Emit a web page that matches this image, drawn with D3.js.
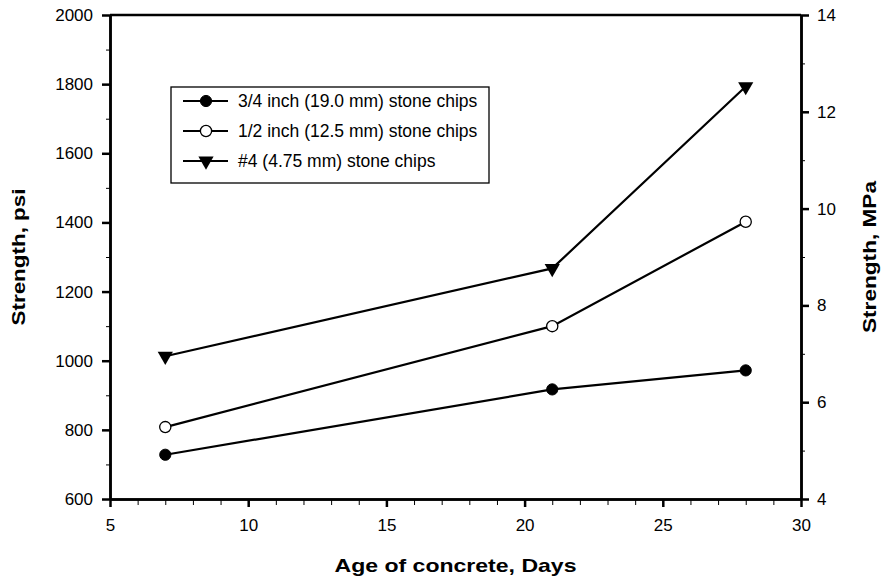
<!DOCTYPE html>
<html>
<head>
  <meta charset="utf-8">
  <script src="https://cdnjs.cloudflare.com/ajax/libs/d3/7.8.5/d3.min.js"></script>
  <title>Strength vs Age</title>
  <style>
    body { margin: 0; background: #fff; }
    text { font-family: Arial, "Liberation Sans", sans-serif; fill: #000; }
  </style>
</head>
<body>
<script>
// data
var days = [7, 21, 28];
var chips19 = [728, 917, 972];
var chips125 = [808, 1100, 1402];
var chips475 = [1013, 1267, 1793];
var seriesNames = ["3/4 inch (19.0 mm) stone chips", "1/2 inch (12.5 mm) stone chips", "#4 (4.75 mm) stone chips"];
var xTicks = [5, 10, 15, 20, 25, 30];
var psiTicks = [600, 800, 1000, 1200, 1400, 1600, 1800, 2000];
var mpaTicks = [4, 6, 8, 10, 12, 14];

var W = 883, H = 585;
var margin = {top: 15, right: 82, bottom: 86, left: 110};
var width = W - margin.left - margin.right,
    height = H - margin.top - margin.bottom;

var svg = d3.select("body").append("svg")
    .attr("width", W)
    .attr("height", H);

var g = svg.append("g")
    .attr("transform", "translate(" + margin.left + "," + margin.top + ")");

var x = d3.scaleLinear().domain([5, 30]).range([0, width]);
var y = d3.scaleLinear().domain([600, 2000]).range([height, 0]);
var y2 = d3.scaleLinear().domain([4, 14]).range([height, 0]);

// minor ticks first (no labels)
var xMinor = d3.axisBottom(x).tickValues(d3.range(5, 31, 1)).tickSize(6).tickSizeOuter(0).tickFormat("");
g.append("g").attr("class", "minor")
  .attr("transform", "translate(0," + height + ")").call(xMinor);
var yMinor = d3.axisLeft(y).tickValues(d3.range(700, 2000, 200)).tickSize(4).tickSizeOuter(0).tickFormat("");
g.append("g").attr("class", "minor").call(yMinor);
var y2Minor = d3.axisRight(y2).tickValues(d3.range(5, 14, 2)).tickSize(4).tickSizeOuter(0).tickFormat("");
g.append("g").attr("class", "minor")
  .attr("transform", "translate(" + width + ",0)").call(y2Minor);

// major axes
var fmt = d3.format("d");
var xAxis = d3.axisBottom(x).tickValues(xTicks).tickSize(8).tickSizeOuter(0).tickPadding(12).tickFormat(fmt);
g.append("g").attr("class", "major")
  .attr("transform", "translate(0," + height + ")").call(xAxis);
var yAxis = d3.axisLeft(y).tickValues(psiTicks).tickSize(8).tickSizeOuter(0).tickPadding(9).tickFormat(fmt);
g.append("g").attr("class", "major").call(yAxis);
var y2Axis = d3.axisRight(y2).tickValues(mpaTicks).tickSize(8).tickSizeOuter(0).tickPadding(8).tickFormat(fmt);
g.append("g").attr("class", "major")
  .attr("transform", "translate(" + width + ",0)").call(y2Axis);

// top frame line
g.append("line").attr("x1", 0).attr("x2", width).attr("y1", 0).attr("y2", 0)
  .attr("stroke", "#000").attr("stroke-width", 2.5);

g.selectAll(".domain").attr("stroke", "#000").attr("stroke-width", 2.5);
g.selectAll(".minor .tick line").attr("stroke", "#000").attr("stroke-width", 1);
g.selectAll(".major .tick line").attr("stroke", "#000").attr("stroke-width", 2.5);
g.selectAll(".major .tick text")
  .style("font-size", "17px")
  .style("font-family", "Arial, 'Liberation Sans', sans-serif");

// axis titles
svg.append("text")
  .attr("x", margin.left + width / 2).attr("y", 572)
  .attr("text-anchor", "middle").style("font-size", "19px").attr("font-weight", "bold")
  .attr("textLength", 242).attr("lengthAdjust", "spacingAndGlyphs")
  .text("Age of concrete, Days");
svg.append("text")
  .attr("transform", "translate(25," + (margin.top + height / 2) + ") rotate(-90)")
  .attr("text-anchor", "middle").style("font-size", "19px").attr("font-weight", "bold")
  .attr("textLength", 137).attr("lengthAdjust", "spacingAndGlyphs")
  .text("Strength, psi");
svg.append("text")
  .attr("transform", "translate(876," + (margin.top + height / 2) + ") rotate(-90)")
  .attr("text-anchor", "middle").style("font-size", "19px").attr("font-weight", "bold")
  .attr("textLength", 152).attr("lengthAdjust", "spacingAndGlyphs")
  .text("Strength, MPa");

var series = [chips19, chips125, chips475];
var line = d3.line().x(function(d, i) { return x(days[i]); }).y(function(d) { return y(d); });

series.forEach(function(s) {
  g.append("path").datum(s)
    .attr("d", line)
    .attr("fill", "none").attr("stroke", "#000").attr("stroke-width", 2.2);
});

var tri = d3.symbol().type(d3.symbolTriangle).size(100);

function marker(sel, k) {
  if (k === 0) {
    sel.append("circle").attr("r", 5.6).attr("fill", "#000").attr("stroke", "#000");
  } else if (k === 1) {
    sel.append("circle").attr("r", 5.6).attr("fill", "#fff").attr("stroke", "#000").attr("stroke-width", 1.3);
  } else {
    sel.append("path").attr("d", tri).attr("transform", "rotate(180)").attr("fill", "#000");
  }
}

series.forEach(function(s, k) {
  s.forEach(function(v, i) {
    var m = g.append("g").attr("transform", "translate(" + x(days[i]) + "," + y(v) + ")");
    marker(m, k);
  });
});

// legend
var leg = svg.append("g").attr("transform", "translate(171,87)");
leg.append("rect").attr("width", 318).attr("height", 96)
  .attr("fill", "#fff").attr("stroke", "#000").attr("stroke-width", 1.3);
seriesNames.forEach(function(name, k) {
  var ry = 14 + k * 30;
  var row = leg.append("g").attr("transform", "translate(0," + ry + ")");
  row.append("line").attr("x1", 12).attr("x2", 57).attr("y1", 0).attr("y2", 0)
    .attr("stroke", "#000").attr("stroke-width", 2.2);
  var m = row.append("g").attr("transform", "translate(35,0)");
  marker(m, k);
  row.append("text").attr("x", 67).attr("y", 6).style("font-size", "17.5px").text(name);
});
</script>
</body>
</html>
